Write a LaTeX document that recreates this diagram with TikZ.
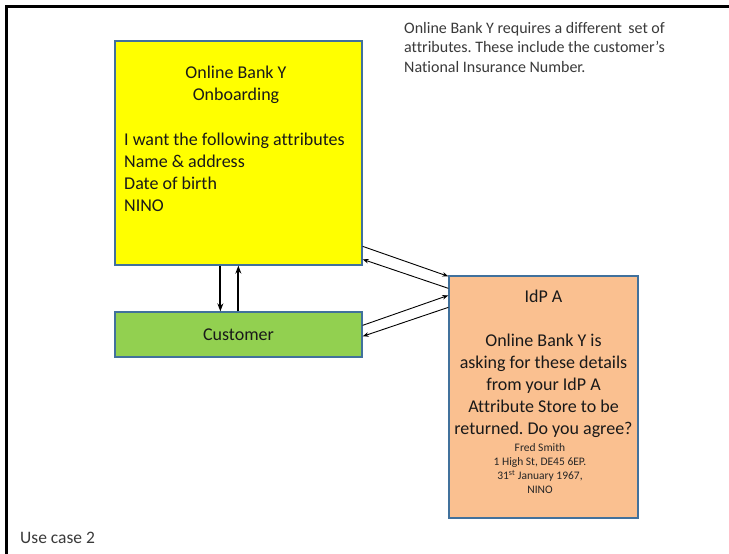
\documentclass[tikz,border=0pt]{standalone}
\usepackage{fontspec}
\setmainfont{Carlito}[Ligatures=NoCommon]
\frenchspacing
\usetikzlibrary{calc,arrows.meta}
\definecolor{boxedge}{HTML}{41719C}
\definecolor{padyellow}{HTML}{FFFF00}
\definecolor{padgreen}{HTML}{92D050}
\definecolor{padorange}{HTML}{FAC090}
\definecolor{notegray}{HTML}{3A3A3A}
\begin{document}
\begin{tikzpicture}[x=1pt,y=-1pt,
  panel/.style={draw=boxedge,line width=1.3pt,inner sep=0pt},
  big/.style={font=\fontsize{18}{22}\selectfont,inner sep=0pt,text=black!90},
  small/.style={font=\fontsize{11.5}{14.3}\selectfont,inner sep=0pt,text=black!85},
  thinlink/.style={line width=0.9pt,-{Stealth[length=6pt,width=4.5pt]}},
  thicklink/.style={line width=2pt,-{Stealth[length=8pt,width=6pt]}}]
\useasboundingbox[fill=white] (0,0) rectangle (729,554);
% page frame
\draw[line width=3pt,line join=miter] (6.5,554) -- (6.5,6.5) -- (729,6.5);

% boxes
\node[panel,fill=padyellow,minimum width=247pt,minimum height=224pt] (bank) at (238.5,153) {};
\node[panel,fill=padgreen,minimum width=247pt,minimum height=45pt] (cust) at (238.5,334.5) {};
\node[panel,fill=padorange,minimum width=189pt,minimum height=242pt] (idp) at (543.5,397) {};

% box texts
\node[big,align=center] (banktitle) at (236,84.5) {Online Bank Y\\Onboarding};
\node[big,align=left,anchor=west] (banklist) at (124,172)
  {I want the following attributes\\Name \& address\\Date of birth\\NINO};
\node[big] (custlabel) at (cust.center) {Customer};
\node[big,align=center] (idptext) at (543.5,363.5)
  {IdP A\\[22pt]Online Bank Y is\\asking for these details\\from your IdP A\\Attribute Store to be\\returned. Do you agree?};
\node[small,align=center] (idpdata) at (540,468.5)
  {Fred Smith\\1 High St, DE45 6EP.\\31\textsuperscript{st} January 1967,\\NINO};

% notes
\node[font=\fontsize{16}{19.5}\selectfont,inner sep=0pt,text=notegray,align=left,anchor=west] (note) at (404,47.5)
  {Online Bank Y requires a different \,set of\\attributes. These include the customer's\\National Insurance Number.};
\node[font=\fontsize{17.5}{21}\selectfont,inner sep=0pt,text=notegray,anchor=west] (usecase) at (20,537.5) {Use case 2};

% bank <-> customer
\draw[thicklink] ($(bank.south west)+(106,0)$) -- ($(cust.north west)+(106,0)$);
\draw[thicklink] ($(cust.north west)+(124,0)$) -- ($(bank.south west)+(124,0)$);

% bank <-> IdP
\draw[thinlink] ($(bank.north east)+(0,206)$) -- ($(idp.north west)+(0,1)$);
\draw[thinlink] ($(idp.north west)+(0,13)$) -- ($(bank.north east)+(0,219)$);

% customer <-> IdP
\draw[thinlink] ($(cust.north east)+(0,14)$) -- ($(idp.north west)+(0,20)$);
\draw[thinlink] ($(idp.north west)+(0,32)$) -- ($(cust.north east)+(0,25)$);
\end{tikzpicture}
\end{document}
